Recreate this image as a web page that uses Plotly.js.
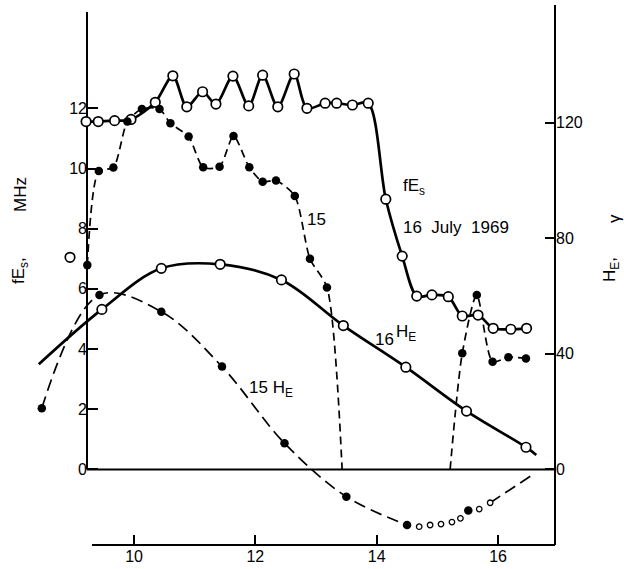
<!DOCTYPE html>
<html><head><meta charset="utf-8">
<script src="https://cdn.plot.ly/plotly-3.0.1.min.js"></script>
<style>html,body{margin:0;padding:0;background:#fff;} #chart{width:624px;height:569px;}</style>
</head><body><div id="chart"></div>
<script>
// ---- data (x = local time, hours) ----
// 16 July fEs (MHz), open circles, solid line
const fes16X = [9.21, 9.41, 9.68, 9.95, 10.35, 10.64, 10.87, 11.13, 11.35, 11.63, 11.89, 12.12, 12.37, 12.64, 12.85, 13.15, 13.34, 13.6, 13.86, 14.15, 14.42, 14.66, 14.91, 15.18, 15.41, 15.67, 15.92, 16.21, 16.47];
const fes16Y = [11.56, 11.56, 11.59, 11.63, 12.2, 13.08, 12.05, 12.55, 12.14, 13.07, 12.08, 13.1, 12.05, 13.14, 12.0, 12.17, 12.17, 12.11, 12.17, 8.98, 7.09, 5.76, 5.8, 5.74, 5.1, 5.13, 4.69, 4.66, 4.69];
const fes16IsolX = [8.945];
const fes16IsolY = [7.05];
// 15 July fEs (MHz), filled dots, dashed line (drops to 0 between)
const fes15X = [9.23, 9.42, 9.66, 9.89, 10.13, 10.42, 10.6, 10.9, 11.14, 11.41, 11.64, 11.9, 12.12, 12.34, 12.65, 12.9, 13.18, 13.43, null, 15.21, 15.41, 15.65, 15.91, 16.17, 16.46];
const fes15Y = [6.79, 9.92, 10.03, 11.56, 11.98, 11.98, 11.5, 11.06, 10.04, 10.06, 11.08, 10.04, 9.56, 9.6, 9.09, 7.0, 6.05, 0, null, 0, 3.86, 5.8, 3.58, 3.73, 3.69];
// 16 July H_E (gamma), open circles, solid curve
const he16X = [9.47, 10.45, 11.42, 12.43, 13.45, 14.48, 15.48, 16.46];
const he16Y = [55.4, 69.6, 71.0, 65.6, 49.8, 35.4, 20.2, 7.7];
const he16EndX = [8.43, 16.63];
const he16EndY = [36.4, 5.0];
// 15 July H_E (gamma), filled dots, dashed curve, small open circles
const he15X = [8.48, 9.43, 10.45, 11.45, 12.48, 13.5, 14.5, 15.51];
const he15Y = [21.2, 60.4, 54.6, 35.6, 9.1, -9.4, -19.2, -14.2];
const he15SmallX = [14.7, 14.88, 15.06, 15.24, 15.38, 15.69, 15.87];
const he15SmallY = [-19.8, -19.2, -18.9, -18.2, -16.9, -13.7, -11.5];
const he15LineX = [8.48, 9.43, 10.45, 11.45, 12.48, 13.5, 14.5, null, 15.87, 16.55];
const he15LineY = [21.2, 60.4, 54.6, 35.6, 9.1, -9.4, -19.2, null, -11.5, -2.1];
// ticks
const xTicks = [10, 12, 14, 16];
const yTicksL = [0, 2, 4, 6, 8, 10, 12];
const yTicksR = [0, 40, 80, 120];

// ---- layout geometry ----
const W = 624, H = 569;
const X_RANGE = [7.791, 18.076];
const Y_RANGE = [-3.306, 15.598];
const RATIO = 10.415; // gamma per MHz
const Y2_RANGE = [Y_RANGE[0] * RATIO, Y_RANGE[1] * RATIO];
const px = v => v / W, py = v => 1 - v / H;
const dy = p => Y_RANGE[1] - p / H * (Y_RANGE[1] - Y_RANGE[0]);
const AXL = 87, AXR = 555, AXB = 545, AXB_L = 92, AXT = 12, AXR_T = 5;
const FONT = 'Liberation Sans, Arial, sans-serif';

const black = '#000';
const openMarker = {symbol: 'circle', size: 9.5, color: '#fff', line: {color: black, width: 1.7}};
const filledMarker = {symbol: 'circle', size: 8.5, color: black, line: {width: 0}};

const traces = [
  {x: fes16X, y: fes16Y, mode: 'lines', line: {color: black, width: 2.7, shape: 'spline', smoothing: 0.85}, hoverinfo: 'skip'},
  {x: fes15X, y: fes15Y, mode: 'lines', line: {color: black, width: 1.7, dash: '8px,5px', shape: 'spline', smoothing: 0.7}, hoverinfo: 'skip'},
  {x: [he16EndX[0]].concat(he16X, [he16EndX[1]]), y: [he16EndY[0]].concat(he16Y, [he16EndY[1]]), yaxis: 'y2', mode: 'lines', line: {color: black, width: 2.7, shape: 'spline', smoothing: 1}, hoverinfo: 'skip'},
  {x: he15LineX, y: he15LineY, yaxis: 'y2', mode: 'lines', line: {color: black, width: 1.7, dash: '12px,6px', shape: 'spline', smoothing: 1}, hoverinfo: 'skip'},
  {x: fes16X, y: fes16Y, mode: 'markers', marker: openMarker, hoverinfo: 'skip'},
  {x: fes16IsolX, y: fes16IsolY, mode: 'markers', marker: openMarker, hoverinfo: 'skip'},
  {x: fes15X.filter((v, i) => fes15Y[i] !== 0 && v !== null), y: fes15Y.filter(v => v !== 0 && v !== null), mode: 'markers', marker: filledMarker, hoverinfo: 'skip'},
  {x: he16X, y: he16Y, yaxis: 'y2', mode: 'markers', marker: openMarker, hoverinfo: 'skip'},
  {x: he15X, y: he15Y, yaxis: 'y2', mode: 'markers', marker: filledMarker, hoverinfo: 'skip'},
  {x: he15SmallX, y: he15SmallY, yaxis: 'y2', mode: 'markers', marker: {symbol: 'circle', size: 5.5, color: '#fff', line: {color: black, width: 1.3}}, hoverinfo: 'skip'}
];

const lineStyle = {color: black, width: 2};
const shapes = [
  {type: 'line', xref: 'paper', yref: 'y', x0: px(AXL), x1: px(AXL), y0: 0, y1: dy(AXT), line: lineStyle, layer: 'below'},
  {type: 'line', xref: 'paper', yref: 'y', x0: px(AXL), x1: px(AXR), y0: 0, y1: 0, line: lineStyle, layer: 'below'},
  {type: 'line', xref: 'paper', yref: 'paper', x0: px(AXR), x1: px(AXR), y0: py(AXB), y1: py(AXR_T), line: lineStyle, layer: 'below'},
  {type: 'line', xref: 'paper', yref: 'paper', x0: px(AXB_L), x1: px(AXR), y0: py(AXB), y1: py(AXB), line: lineStyle, layer: 'below'}
];

const ann = (text, x, y, opts) => Object.assign({text: text, xref: 'paper', yref: 'paper', x: px(x), y: py(y), showarrow: false, xanchor: 'left', yanchor: 'middle', font: {family: FONT, size: 17, color: black}}, opts || {});
const annotations = [
  ann('fE<sub>s</sub>', 401, 187),
  ann('16\u00a0 July\u00a0 1969', 401, 227),
  ann('15', 305, 219),
  ann('16', 373, 339),
  ann('H<sub>E</sub>', 394, 333),
  ann('15 H<sub>E</sub>', 247, 389),
  ann('MHz', 20, 195, {textangle: -90, xanchor: 'center'}),
  ann('fE<sub>s</sub>,', 20, 271, {textangle: -90, xanchor: 'center'}),
  ann('\u03b3', 614, 219, {textangle: -90, xanchor: 'center'}),
  ann('H<sub>E</sub>,', 611, 270, {textangle: -90, xanchor: 'center'})
];

const axCommon = {showgrid: false, zeroline: false, showline: false, ticks: 'inside', ticklen: 10, tickwidth: 1.5, tickcolor: black, tickfont: {family: FONT, size: 16, color: black}, fixedrange: true};

const layout = {
  width: W, height: H,
  margin: {l: 0, r: 0, t: 0, b: 0, pad: 0},
  paper_bgcolor: '#fff', plot_bgcolor: '#fff',
  showlegend: false,
  hovermode: false,
  font: {family: FONT, size: 16, color: black},
  xaxis: Object.assign({}, axCommon, {range: X_RANGE, anchor: 'free', position: py(AXB), side: 'bottom', tickvals: xTicks, ticktext: xTicks.map(String)}),
  yaxis: Object.assign({}, axCommon, {range: Y_RANGE, anchor: 'free', position: px(AXL), side: 'left', tickvals: yTicksL, ticktext: yTicksL.map(String)}),
  yaxis2: Object.assign({}, axCommon, {range: Y2_RANGE, overlaying: 'y', anchor: 'free', position: px(AXR), side: 'right', tickvals: yTicksR, ticktext: yTicksR.map(String)}),
  shapes: shapes,
  annotations: annotations
};

Plotly.newPlot('chart', traces, layout, {displayModeBar: false, responsive: false});
</script>
</body></html>
